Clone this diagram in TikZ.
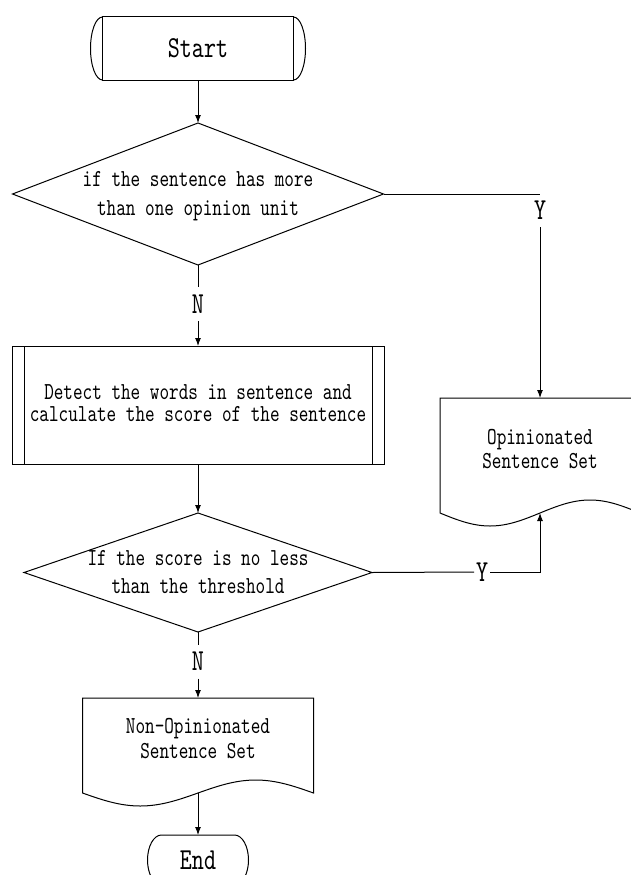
\documentclass[tikz,border=0pt]{standalone}
\usepackage{fontspec}
\newfontfamily\cf{lmmono10-regular.otf}[FakeStretch=0.75]
\usetikzlibrary{shapes.geometric,arrows.meta}
\begin{document}
\begin{tikzpicture}[x=1pt,y=1pt,line width=1pt,
  plain/.style={inner sep=0pt,outer sep=0pt},
  txt/.style={plain,align=center,font=\cf\fontsize{24.4}{#1}\selectfont},
  bigtxt/.style={plain,font=\cf\fontsize{30.5}{30.5}\selectfont},
  lbl/.style={bigtxt,text height=18pt,text depth=0pt,outer sep=8pt},
  dec/.style={draw,shape=diamond,inner sep=0pt,outer sep=0pt},
  arr/.style={-{Latex[length=8pt,width=6pt]}}]
\useasboundingbox (0,0) rectangle (630,-875);

% Start
\node[draw,plain,bigtxt,minimum width=191pt,minimum height=63pt] (start) at (198,-48.5) {Start};
\draw (start.north west) arc[start angle=90,end angle=270,x radius=12pt,y radius=31.5pt];
\draw (start.south east) arc[start angle=-90,end angle=90,x radius=12pt,y radius=31.5pt];

% Decision 1
\node[dec,minimum width=371pt,minimum height=142pt] (d1) at (198,-194) {};
\node[txt=29] (d1t) at (198,-196) {if the sentence has more\\than one opinion unit};

% Process
\node[draw,plain,minimum width=372pt,minimum height=118pt] (proc) at (198,-405) {};
\draw ([xshift=12pt]proc.north west) -- ([xshift=12pt]proc.south west);
\draw ([xshift=-12pt]proc.north east) -- ([xshift=-12pt]proc.south east);
\node[txt=22] (proct) at (198,-403)
  {Detect the words in sentence and\\calculate the score of the sentence};

% Decision 2
\node[dec,minimum width=348pt,minimum height=119pt] (d2) at (198,-572.5) {};
\node[txt=28] (d2t) at (198,-572) {If the score is no less\\than the threshold};

% Document 1
\node[plain,minimum width=200pt,minimum height=115pt] (doc1) at (540,-455.5) {};
\draw (doc1.north east) -- (doc1.north west) -- (doc1.south west)
  sin ++(50,-13) cos ++(50,13) sin ++(50,13) cos ++(50,-13) -- cycle;
\node[txt=24] (doc1t) at (540,-449) {Opinionated\\Sentence Set};

% Document 2
\node[plain,minimum width=231pt,minimum height=95pt] (doc2) at (198,-745.5) {};
\draw (doc2.north east) -- (doc2.north west) -- (doc2.south west)
  sin ++(57.75,-13) cos ++(57.75,13) sin ++(57.75,13) cos ++(57.75,-13) -- cycle;
\node[txt=25] (doc2t) at (198,-739) {Non-Opinionated\\Sentence Set};

% End
\node[plain,bigtxt,minimum width=73pt,minimum height=50pt] (end) at (198,-860) {End};
\draw (end.north west) -- (end.north east)
  arc[start angle=90,end angle=-90,x radius=14pt,y radius=25pt]
  -- (end.south west)
  arc[start angle=270,end angle=90,x radius=14pt,y radius=25pt] -- cycle;

% Labels
\node[lbl] (y1) at (540,-210) {Y};
\node[lbl] (n1) at (198,-304) {N};
\node[lbl] (n2) at (198,-661.5) {N};
\node[lbl,outer sep=2pt] (y2) at (482,-572) {Y};

% Connectors
\draw[arr] (start.south) -- (d1.north);
\draw (d1.east) -- (y1 |- d1.east);
\draw[arr] (y1.south) -- (doc1.north);
\draw (d1.south) -- (n1.north);
\draw[arr] (n1.south) -- (proc.north);
\draw[arr] (proc.south) -- (d2.north);
\draw (d2.east) -- (y2.west);
\draw[arr] (y2.east) -| (doc1.south);
\draw (d2.south) -- (n2.north);
\draw[arr] (n2.south) -- (doc2.north);
\draw[arr] (doc2.south) -- (end.north);
\end{tikzpicture}
\end{document}
